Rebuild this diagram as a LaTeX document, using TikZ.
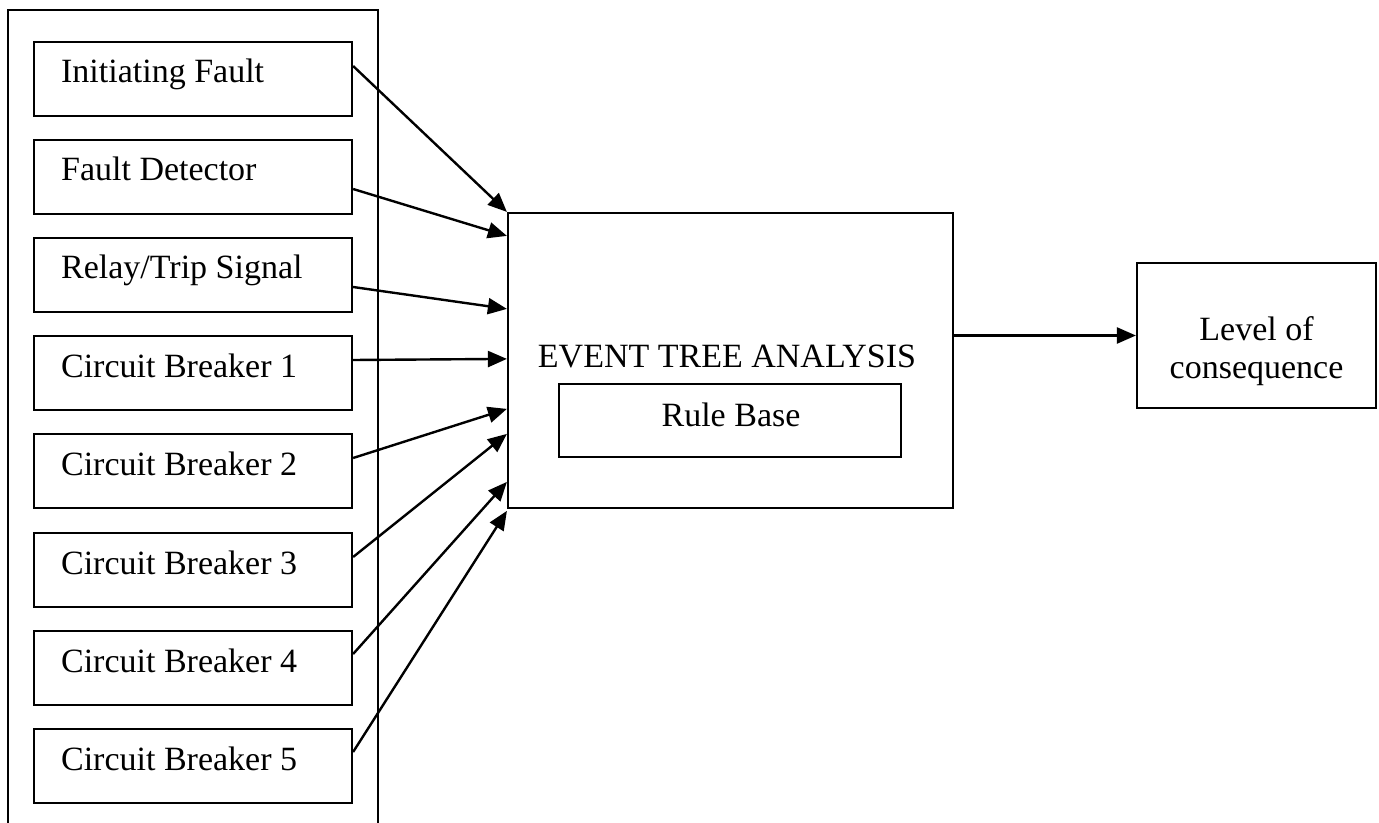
\documentclass[tikz,border=0pt]{standalone}
\usepackage{fontspec}
\setmainfont{Liberation Serif}
\usetikzlibrary{arrows.meta,calc}
\begin{document}
\begin{tikzpicture}[x=0.5pt,y=-0.5pt,line width=1.1pt,
  box/.style={draw,rectangle,inner sep=0pt},
  inbox/.style={box,minimum width=159pt,minimum height=37pt},
  lbl/.style={inner sep=0pt,font=\fontsize{17pt}{19pt}\selectfont},
  flow/.style={-{Triangle[length=9.5pt,width=8pt]},line width=1.2pt}]
\useasboundingbox (0,0) rectangle (1379,823);
\fill[white] (0,0) rectangle (1379,823);

% frame holding the input events (open at the bottom edge)
\draw (8,835) -- (8,10) -- (378,10) -- (378,835);

% input events
\node[inbox] (init) at (193,79) {};
\node[lbl,anchor=base west] (initT) at (60,83) {Initiating Fault};
\node[inbox] (fd) at (193,177) {};
\node[lbl,anchor=base west] (fdT) at (60,181) {Fault Detector};
\node[inbox] (rel) at (193,275) {};
\node[lbl,anchor=base west] (relT) at (60,279) {Relay/Trip Signal};
\node[inbox] (cba) at (193,373) {};
\node[lbl,anchor=base west] (cbaT) at (60,377) {Circuit Breaker 1};
\node[inbox] (cbb) at (193,471) {};
\node[lbl,anchor=base west] (cbbT) at (60,475) {Circuit Breaker 2};
\node[inbox] (cbc) at (193,570) {};
\node[lbl,anchor=base west] (cbcT) at (60,574) {Circuit Breaker 3};
\node[inbox] (cbd) at (193,668) {};
\node[lbl,anchor=base west] (cbdT) at (60,672) {Circuit Breaker 4};
\node[inbox] (cbe) at (193,766) {};
\node[lbl,anchor=base west] (cbeT) at (60,770) {Circuit Breaker 5};

% event tree analysis block
\node[box,minimum width=222.5pt,minimum height=147.5pt] (eta) at (730.5,360.5) {};
\node[lbl,anchor=base] (etaT) at (727,367) {EVENT TREE ANALYSIS};
\node[box,minimum width=171pt,minimum height=36.5pt] (rb) at (730,420.5) {};
\node[lbl,anchor=base] (rbT) at (731,426) {Rule Base};

% output
\node[box,minimum width=119.5pt,minimum height=72.5pt] (lev) at (1256.5,335.5) {};
\node[lbl,anchor=base] (levA) at (1256.5,340) {Level of};
\node[lbl,anchor=base] (levB) at (1256.5,378) {consequence};

% connectors
\draw[flow] ($(init.east)+(0,-13)$) -- (eta.north west);
\draw[flow] ($(fd.east)+(0,12)$)    -- ($(eta.north west)+(0,24)$);
\draw[flow] ($(rel.east)+(0,12)$)   -- ($(eta.north west)+(0,97)$);
\draw[flow] ($(cba.east)+(0,-13)$)  -- ($(eta.north west)+(0,147)$);
\draw[flow] ($(cbb.east)+(0,-13)$)  -- ($(eta.north west)+(0,197)$);
\draw[flow] ($(cbc.east)+(0,-13)$)  -- ($(eta.north west)+(0,222)$);
\draw[flow] ($(cbd.east)+(0,-14)$)  -- ($(eta.north west)+(0,270)$);
\draw[flow] ($(cbe.east)+(0,-14)$)  -- ($(eta.north west)+(0,299)$);
\draw[flow] (eta.east |- lev.west) -- (lev.west);
\end{tikzpicture}
\end{document}
